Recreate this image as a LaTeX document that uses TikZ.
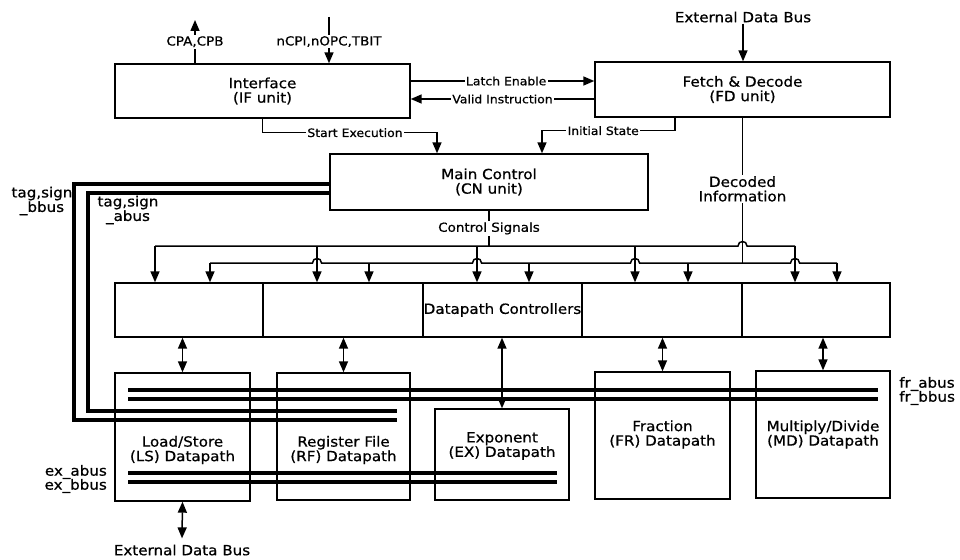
\documentclass[tikz,border=0pt]{standalone}
\usepackage{fontspec}
\setmainfont[FakeStretch=1.08,FakeBold=0.7]{DejaVu Sans}
\usetikzlibrary{arrows.meta,calc}
\newcommand\bigf{\fontsize{14}{14.5}\selectfont}
\newcommand\medf{\fontsize{12.5}{14}\selectfont}
\newcommand\smlf{\fontsize{11.5}{13}\selectfont}
\begin{document}
\begin{tikzpicture}[x=1pt,y=-1pt,
  box/.style={draw,line width=1.4pt,inner sep=0pt,align=center,font=\bigf},
  txt/.style={inner sep=1pt,align=center,font=\bigf},
  lbl/.style={inner sep=1.5pt,fill=white,font=\smlf},
  mlbl/.style={inner sep=1.5pt,fill=white,font=\medf},
  conn/.style={line width=1.5pt},
  arr/.style={conn,-{Triangle[length=11pt,width=9pt]}},
  biarr/.style={conn,{Triangle[length=11pt,width=9pt]}-{Triangle[length=11pt,width=9pt]}},
  bus/.style={line width=3.3pt}]
\useasboundingbox (0,0) rectangle (960,559);

% main units
\node[box,minimum width=295pt,minimum height=54pt] (if) at (262.5,91) {Interface\\(IF unit)};
\node[box,minimum width=295pt,minimum height=55pt] (fd) at (742.5,89.5) {Fetch \& Decode\\(FD unit)};
\node[box,minimum width=318pt,minimum height=56pt] (cn) at (489,182) {Main Control\\(CN unit)};

% datapath controllers
\node[box,minimum width=148pt,minimum height=54pt] (dpc1) at (189,310) {};
\node[box,minimum width=160pt,minimum height=54pt] (dpc2) at (343,310) {};
\node[box,minimum width=159pt,minimum height=54pt] (dpc3) at (502.5,310) {Datapath Controllers};
\node[box,minimum width=160pt,minimum height=54pt] (dpc4) at (662,310) {};
\node[box,minimum width=148pt,minimum height=54pt] (dpc5) at (816,310) {};

% datapaths
\node[box,minimum width=135pt,minimum height=128pt] (ls) at (182.5,437) {};
\node[box,minimum width=133pt,minimum height=127pt] (rf) at (343.5,436.5) {};
\node[box,minimum width=134pt,minimum height=91pt] (ex) at (502,454.5) {};
\node[box,minimum width=135pt,minimum height=127pt] (fr) at (662.5,435.5) {};
\node[box,minimum width=134pt,minimum height=127pt] (md) at (823,434.5) {};
\node[txt] (lst) at (182.5,450) {Load/Store\\(LS) Datapath};
\node[txt] (rft) at (343.5,450) {Register File\\(RF) Datapath};
\node[txt] (ext) at (502,446) {Exponent\\(EX) Datapath};
\node[txt] (frt) at (662.5,434.5) {Fraction\\(FR) Datapath};
\node[txt] (mdt) at (823,434.5) {Multiply/Divide\\(MD) Datapath};

% top signals
\node[txt] (exttop) at (743,17) {External Data Bus};
\draw[arr] (exttop.south) -- (exttop.south |- fd.north);
\coordinate (cpaend) at (195,20);
\draw[arr] (if.north -| cpaend) -- (cpaend) node[midway,mlbl] (cpa) {CPA,CPB};
\coordinate (ncpi) at (329,17);
\draw[arr] (ncpi) -- (ncpi |- if.north) node[pos=0.53,mlbl] (ncpil) {nCPI,nOPC,TBIT};

% IF <-> FD
\coordinate (le) at ($(if.east)+(0,-10)$);
\draw[arr] (le) -- (le -| fd.west) node[pos=0.52,lbl] (lel) {Latch Enable};
\coordinate (vi) at ($(fd.west)+(0,9.5)$);
\draw[arr] (vi) -- (vi -| if.east) node[midway,lbl] (vil) {Valid Instruction};

% to CN
\coordinate (cnin1) at ($(cn.north)+(-52,0)$);
\draw[arr] (if.south) -- ++(0,14) coordinate (se1) -- (se1 -| cnin1) node[pos=0.53,lbl] (sel) {Start Execution} -- (cnin1);
\coordinate (cnin2) at ($(cn.north)+(53,0)$);
\coordinate (is0) at ($(fd.south)+(-67.5,0)$);
\draw[arr] (is0) -- ++(0,13) coordinate (is1) -- (is1 -| cnin2) node[pos=0.54,lbl] (isl) {Initial State} -- (cnin2);

% control signal bus
\coordinate (tb1) at (155,246);
\coordinate (tb2) at (317,246);
\coordinate (tb3) at (477,246);
\coordinate (tb4) at (635,246);
\coordinate (tb5) at (795,246);
\coordinate (sb1) at (210,263);
\coordinate (sb2) at (369,263);
\coordinate (sb3) at (529,263);
\coordinate (sb4) at (688,263);
\coordinate (sb5) at (837,263);

\draw[conn] (cn.south) -- (cn.south |- tb1) node[midway,mlbl] (csl) {Control Signals};
\draw[conn] (fd.south) -- (fd.south |- sb1) node[pos=0.49,fill=white,txt] (dil) {Decoded\\Information};

\draw[conn] (tb1) -- ($(fd.south |- tb1)+(-4.5,0)$) .. controls +(0,-6) and +(0,-6) .. ++(9,0) -- (tb5);
\draw[conn] (sb1)
  -- ($(tb2 |- sb1)+(-4.5,0)$) .. controls +(0,-6) and +(0,-6) .. ++(9,0)
  -- ($(tb3 |- sb1)+(-4.5,0)$) .. controls +(0,-6) and +(0,-6) .. ++(9,0)
  -- ($(tb4 |- sb1)+(-4.5,0)$) .. controls +(0,-6) and +(0,-6) .. ++(9,0)
  -- ($(tb5 |- sb1)+(-4.5,0)$) .. controls +(0,-6) and +(0,-6) .. ++(9,0)
  -- (sb5);
\foreach \c in {tb1,tb2,tb3,tb4,tb5,sb1,sb2,sb3,sb4,sb5}
  \draw[arr] (\c) -- (\c |- dpc1.north);

% controllers <-> datapaths
\draw[biarr] (ls.north |- dpc1.south) -- (ls.north);
\draw[biarr] (rf.north |- dpc2.south) -- (rf.north);
\draw[biarr] (ex.north |- dpc3.south) -- (ex.north);
\draw[biarr] (fr.north |- dpc4.south) -- (fr.north);
\draw[biarr] (md.north |- dpc5.south) -- (md.north);

% bottom external bus
\node[txt] (extbot) at (182,550) {External Data Bus};
\draw[biarr] (ls.south) -- ($(extbot.north)+(0,-5)$);

% buses
\coordinate (fra1) at (128,390); \coordinate (fra2) at (878,390);
\coordinate (frb1) at (128,399); \coordinate (frb2) at (878,399);
\draw[bus] (fra1) -- (fra2);
\draw[bus] (frb1) -- (frb2);
\node[txt,anchor=west] (fral) at (898,384) {fr\_abus};
\node[txt,anchor=west] (frbl) at (898,398) {fr\_bbus};

\coordinate (exa1) at (128,473); \coordinate (exa2) at (557,473);
\coordinate (exb1) at (128,482); \coordinate (exb2) at (557,482);
\draw[bus] (exa1) -- (exa2);
\draw[bus] (exb1) -- (exb2);
\node[txt,anchor=east] (exal) at (108,472) {ex\_abus};
\node[txt,anchor=east] (exbl) at (108,486) {ex\_bbus};

% tag,sign buses
\coordinate (tgb0) at ($(cn.west)+(0,2)$);
\coordinate (tgbc) at (74,420);
\coordinate (tgbe) at (397,420);
\draw[bus] (tgb0) -| (tgbc) -- (tgbe);
\coordinate (tga0) at ($(cn.west)+(0,11)$);
\coordinate (tgac) at (88,411);
\coordinate (tgae) at (397,411);
\draw[bus] (tga0) -| (tgac) -- (tgae);
\node[txt] (tagb) at (42,201) {tag,sign\\\_bbus};
\node[txt] (taga) at (128,210) {tag,sign\\\_abus};
\end{tikzpicture}
\end{document}
